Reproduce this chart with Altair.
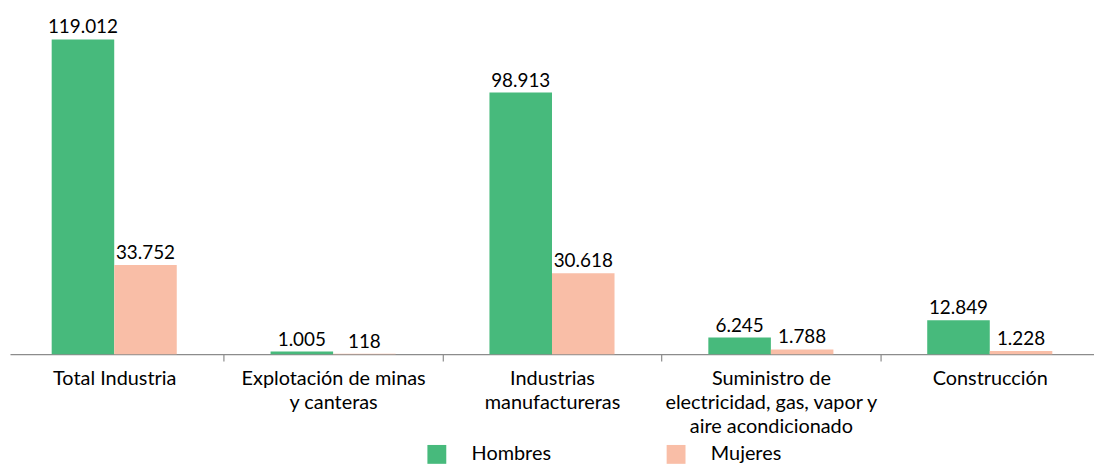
import altair as alt
import pandas as pd

categories = [
    "Total Industria",
    "Explotación de minas y canteras",
    "Industrias manufactureras",
    "Suministro de electricidad, gas, vapor y aire acondicionado",
    "Construcción",
]
label_lines = [
    ["Total Industria"],
    ["Explotación de minas", "y canteras"],
    ["Industrias", "manufactureras"],
    ["Suministro de", "electricidad, gas, vapor y", "aire acondicionado"],
    ["Construcción"],
]
series = ["Hombres", "Mujeres"]
hombres = [119012, 1005, 98913, 6245, 12849]
mujeres = [33752, 118, 30618, 1788, 1228]
colors = ["#47BA7C", "#F9BEA7"]

rows = []
for c, h, m in zip(categories, hombres, mujeres):
    for s, v in zip(series, [h, m]):
        rows.append({"cat": c, "sexo": s, "valor": v,
                     "lab": f"{v:,}".replace(",", ".")})
df = pd.DataFrame(rows)

expr = ""
for c, lines in zip(categories, label_lines):
    arr = "[" + ",".join("'" + l + "'" for l in lines) + "]"
    expr += f"datum.value == '{c}' ? {arr} : "
expr += "datum.label"

FONT = "Lato"
HALF_STEP = 1092 / (5 - 0.4286 + 2 * 0.1905) / 2

x = alt.X("cat:N", sort=categories, title=None,
          scale=alt.Scale(paddingInner=0.4286, paddingOuter=0.1905),
          axis=alt.Axis(labelExpr=expr, labelAngle=0, domainColor="#8c8c8c", tickColor="#8c8c8c",
                        tickOffset=-HALF_STEP, labelOffset=HALF_STEP,
                        tickSize=7, labelFontSize=20, labelFont=FONT,
                        labelColor="#000000", labelPadding=8, labelLineHeight=24, labelLimit=400,
                        domainWidth=1.2, tickWidth=1.2, grid=False))
xo = alt.XOffset("sexo:N", sort=series, scale=alt.Scale(paddingInner=0, paddingOuter=0))
y = alt.Y("valor:Q", scale=alt.Scale(domain=[0, 125000]), axis=None)

base = alt.Chart(df)
bars = base.mark_bar().encode(
    x=x, xOffset=xo, y=y,
    color=alt.Color("sexo:N", sort=series, scale=alt.Scale(domain=series, range=colors),
                    legend=alt.Legend(orient="none", legendX=420, legendY=424, direction="horizontal",
                                      title=None, symbolType="square", symbolSize=361,
                                      symbolStrokeWidth=0, labelFontSize=20, labelFont=FONT,
                                      labelOffset=25, columnPadding=115, labelColor="#000000")),
)
texts = base.mark_text(baseline="bottom", dy=-2, fontSize=19, font=FONT, color="#000000").encode(
    x=x, xOffset=xo, y=y, text="lab:N"
)

chart = (bars + texts).properties(
    width=1092, height=333,
    padding={"left": 2, "top": 14, "right": 0, "bottom": 110},
    autosize=alt.AutoSizeParams(type="none"),
).configure(background="white", view=alt.ViewConfig(stroke="transparent", strokeWidth=0))

chart.save("out.html", embed_options={"renderer": "svg", "actions": False})
